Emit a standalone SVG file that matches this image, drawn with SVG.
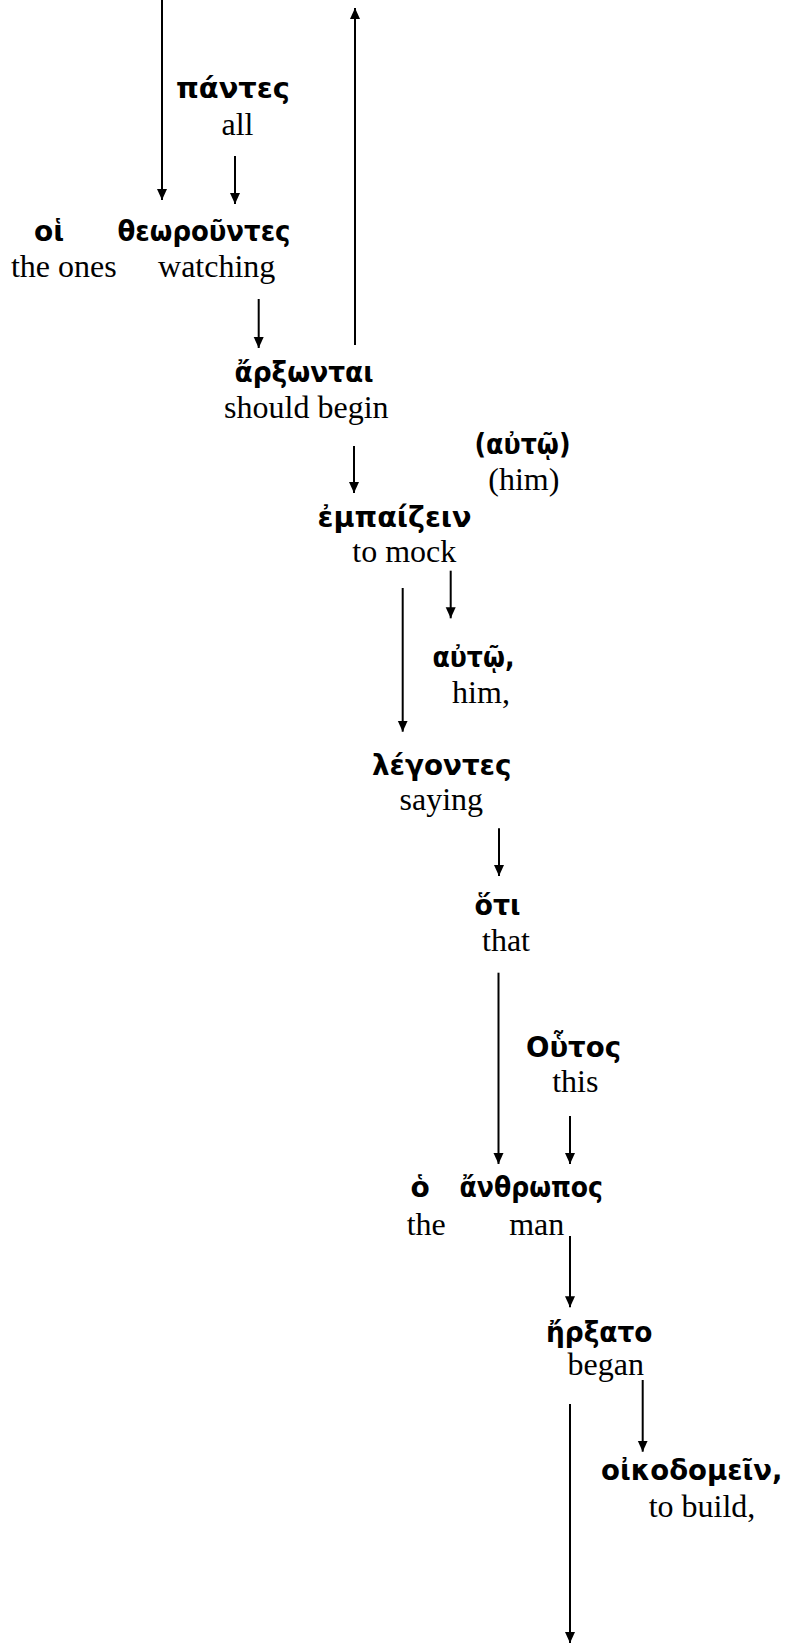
<svg xmlns="http://www.w3.org/2000/svg" width="787" height="1644" viewBox="0 0 787 1644">
<style>
.g{font-family:"DejaVu Sans","Noto Sans",sans-serif;font-weight:bold;font-size:28px;fill:#000}
.e{font-family:"Liberation Serif","Times New Roman",serif;font-size:32px;fill:#000;text-anchor:middle}
.c line{stroke:#000;stroke-width:2;fill:none;marker-end:url(#ah)}
</style>
<defs>
<marker id="ah" markerWidth="12" markerHeight="12" refX="11" refY="5" orient="auto" markerUnits="userSpaceOnUse"><path d="M0,0 L11,5 L0,10 z" fill="#000"/></marker>
</defs>
<rect width="787" height="1644" fill="#fff"/>
<g class="c" id="connectors">
<line x1="162" y1="0" x2="162" y2="200"/>
<line x1="235" y1="156" x2="235" y2="204"/>
<line x1="355" y1="345" x2="355" y2="8"/>
<line x1="258.7" y1="299" x2="258.7" y2="348"/>
<line x1="354" y1="446" x2="354" y2="493"/>
<line x1="450.7" y1="570.7" x2="450.7" y2="618.3"/>
<line x1="402.7" y1="588" x2="402.7" y2="731.7"/>
<line x1="499" y1="828.3" x2="499" y2="876"/>
<line x1="498.5" y1="972.7" x2="498.5" y2="1164"/>
<line x1="570" y1="1116" x2="570" y2="1164"/>
<line x1="570" y1="1236" x2="570" y2="1307.3"/>
<line x1="642.7" y1="1380" x2="642.7" y2="1451.7"/>
<line x1="570" y1="1404" x2="570" y2="1643"/>
</g>
<g id="n-pantes"><text class="g" x="176" y="98" textLength="114" lengthAdjust="spacingAndGlyphs">πάντες</text><text class="e" x="237.5" y="135">all</text></g>
<g id="n-hoi"><text class="g" x="34" y="240.7">οἱ</text><text class="e" x="63.8" y="276.7">the ones</text></g>
<g id="n-theorountes"><text class="g" x="117.5" y="240.7" textLength="173" lengthAdjust="spacingAndGlyphs">θεωροῦντες</text><text class="e" x="216.7" y="276.7">watching</text></g>
<g id="n-arxontai"><text class="g" x="234.5" y="381.7" textLength="139" lengthAdjust="spacingAndGlyphs">ἄρξωνται</text><text class="e" x="306.3" y="418">should begin</text></g>
<g id="n-auto1"><text class="g" x="474.5" y="454" textLength="96" lengthAdjust="spacingAndGlyphs">(αὐτῷ)</text><text class="e" x="523.8" y="490">(him)</text></g>
<g id="n-empaizein"><text class="g" x="317.5" y="526.7" textLength="154" lengthAdjust="spacingAndGlyphs">ἐμπαίζειν</text><text class="e" x="404.3" y="561.7">to mock</text></g>
<g id="n-auto2"><text class="g" x="432.5" y="666.7" textLength="82" lengthAdjust="spacingAndGlyphs">αὐτῷ,</text><text class="e" x="481" y="703">him,</text></g>
<g id="n-legontes"><text class="g" x="372" y="775" textLength="139.5" lengthAdjust="spacingAndGlyphs">λέγοντες</text><text class="e" x="441.3" y="810">saying</text></g>
<g id="n-hoti"><text class="g" x="474.5" y="915" textLength="46" lengthAdjust="spacingAndGlyphs">ὅτι</text><text class="e" x="506" y="951">that</text></g>
<g id="n-houtos"><text class="g" x="526" y="1056.7" textLength="95" lengthAdjust="spacingAndGlyphs">Οὗτος</text><text class="e" x="575.3" y="1092.3">this</text></g>
<g id="n-ho"><text class="g" x="410.5" y="1197.3">ὁ</text><text class="e" x="426.2" y="1235">the</text></g>
<g id="n-anthropos"><text class="g" x="459.5" y="1197.3" textLength="143.5" lengthAdjust="spacingAndGlyphs">ἄνθρωπος</text><text class="e" x="536.7" y="1235">man</text></g>
<g id="n-erxato"><text class="g" x="546" y="1341.7" textLength="106.5" lengthAdjust="spacingAndGlyphs">ἤρξατο</text><text class="e" x="605.8" y="1375">began</text></g>
<g id="n-oikodomein"><text class="g" x="601" y="1480" textLength="181.5" lengthAdjust="spacingAndGlyphs">οἰκοδομεῖν,</text><text class="e" x="702" y="1516.7">to build,</text></g>
</svg>
